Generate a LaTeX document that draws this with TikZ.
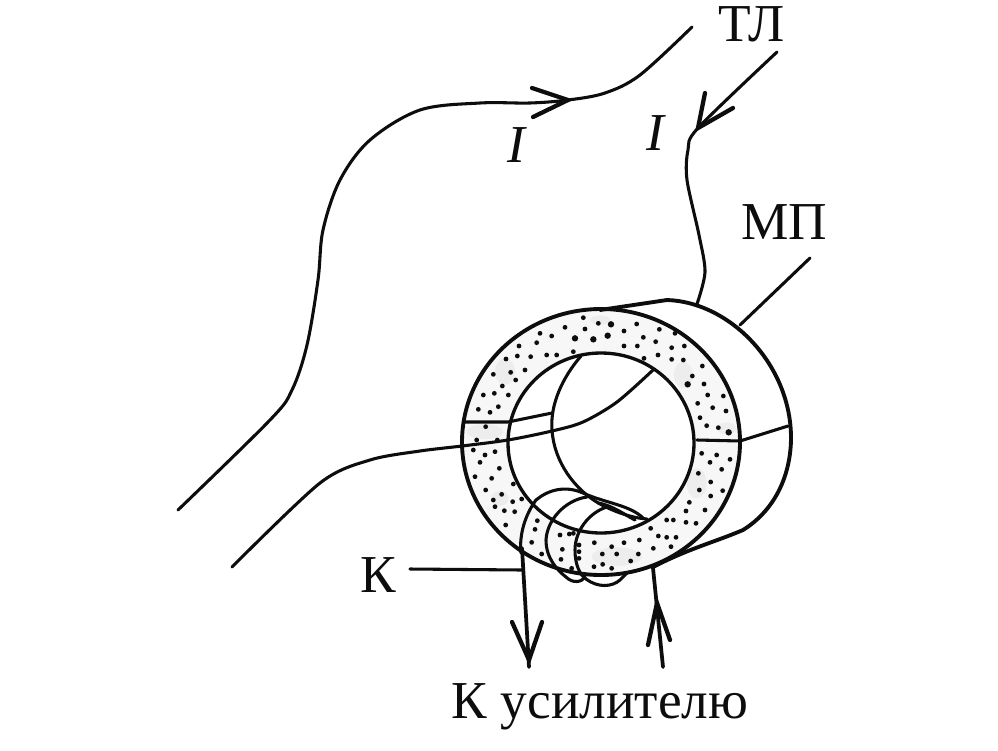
\documentclass[tikz,border=0pt]{standalone}
\usepackage{fontspec}
\setmainfont{Liberation Serif}
\tikzset{
  wire/.style={line width=2.3pt,line cap=round,line join=round,black!95},
  rim/.style={line width=2.9pt,line cap=round,line join=round,black!95},
  barb/.style={line width=3.2pt,line cap=round,black!95},
  lbl/.style={font=\fontsize{40pt}{40pt}\selectfont,inner sep=0pt,text=black!95},
  ital/.style={font=\fontsize{40pt}{40pt}\selectfont\itshape,inner sep=0pt,text=black!95},
  smudge/.style={fill=black!7,draw=none},
}
\begin{document}
\begin{tikzpicture}[x=0.75pt,y=-0.75pt]
\useasboundingbox (0,0) rectangle (998,750);
\fill[white] (0,0) rectangle (998,750);

% labels
\node[lbl,anchor=base] (tl) at (752,41) {ТЛ};
\node[lbl] (mp) at (784,222) {МП};
\node[lbl] (k) at (378,575) {К};
\node[ital] (i1) at (516,145) {I};
\node[ital] (i2) at (655,133) {I};
\node[lbl,anchor=base] (amp) at (600,718) {К усилителю};

% ring face
\fill[black!3,even odd rule] (601,442) ellipse [x radius=139,y radius=133]
     (601,443) ellipse [x radius=93,y radius=90];
\begin{scope}[even odd rule]
\clip (601,442) ellipse [x radius=139,y radius=133]
     (601,443) ellipse [x radius=93,y radius=90];
\foreach \a/\b/\c/\d in {195/275/30/40, 340/300/22/45, 265/445/60/28, 135/455/55/22, 730/285/28/40,
   770/610/30/45, 530/830/75/28, 350/665/55/28, 480/120/30/14, 860/445/28/18, 180/655/26/22}
  \fill[smudge] ({440+\a/3},{280+\b/3}) ellipse [x radius=\c/3,y radius=\d/3];
\end{scope}

% stipple
\foreach \a/\b in {430/113,375/142,300/160,335/168,290/188,237/198,198/237,232/228,272/230,320/225,
 350/225,400/215,552/153,590/132,610/172,647/185,475/130,435/147,
 658/148,705/160,552/198,592/198,612/235,654/225,695/203,733/198,695/238,730/240,787/258,757/288,
 792/312,803/345,850/348,773/370,818/383,858/393,780/413,800/437,835/443,
 255/270,212/277,160/283,227/300,187/318,130/345,163/340,205/345,175/380,115/388,150/397,137/440,
 110/480,172/480,100/510,135/525,165/515,120/547,178/565,105/590,155/595,220/612,137/630,185/643,
 160/660,218/665,245/657,165/680,193/692,224/695,197/735,785/520,830/525,810/547,870/538,845/568,
 775/580,812/606,848/632,778/630,812/648,748/667,738/693,795/690,680/720,700/720,738/727,768/730,
 632/745,655/768,680/772,708/772,693/800,598/780,552/788,515/800,463/788,487/822,595/822,640/805,
 530/822,572/843,462/860,488/853,515/865,417/795,417/815,417/835,388/762,360/765,367/808,363/838,
 395/865,292/722,285/748,275/787,305/822,400/760}
  \fill[black!95] ({440+\a/3},{280+\b/3}) circle [radius=1.8pt];
\foreach \a/\b in {743/313,866/457,513/133,503/167,405/175,460/178}
  \fill[black!95] ({440+\a/3},{280+\b/3}) circle [radius=2.4pt];

% ring rims
\draw[rim] (601,442) ellipse [x radius=139,y radius=133];
\draw[wire,line width=2.5pt] (601,443) ellipse [x radius=93,y radius=90];

% hole seen through the ring
\draw[wire] (581,356) .. controls (562,378) and (550,405) .. (552,430)
   .. controls (554,462) and (575,490) .. (600,504)
   .. controls (615,512) and (632,518) .. (647,519);

% body of the core
\draw[rim] (600,310) -- (667,300) .. controls (730,302) and (792,365) .. (791,440)
   .. controls (790,480) and (772,512) .. (743,530)
   .. controls (715,542) and (690,548) .. (653,567);

% seam
\draw[wire] (465,422) -- (508,422) -- (552,413);
\draw[wire] (697,440) -- (740,441) -- (788,426);

% line TL, first conductor
\coordinate (c1a) at (692,27);
\coordinate (c1b) at (178,510);
\draw[wire] plot[smooth,tension=.55] coordinates {(c1a) (640,75) (605,93) (568,100) (530,103) (480,103) (420,110)
   (370,140) (340,180) (323,230) (318,280) (307,345) (292,390) (270,420) (c1b)};
\coordinate (h1) at (568,100);
\draw[barb] (532,88) -- (h1) -- (533,117);

% second conductor
\coordinate (c2a) at (777,52);
\coordinate (c2b) at (697,304);
\draw[wire] plot[smooth,tension=.5] coordinates {(c2a) (698,128) (688,150) (687,180) (699,235) (705,272) (c2b)};
\coordinate (h2) at (698,128);
\draw[barb] (705,93) -- (h2) -- (733,108);

% conductor through the core
\coordinate (c3a) at (232,567);
\coordinate (c3b) at (653,370);
\draw[wire] plot[smooth,tension=.5] coordinates {(c3a) (320,483) (370,460) (420,451) (462,446) (508,440) (552,431)
   (583,422) (617,402) (c3b)};

% lead to label MP
\coordinate (mpend) at (810,258);
\coordinate (mpbody) at (740,325);
\draw[wire] (mpend) -- (mpbody);

% coil
\draw[wire] (536,500) .. controls (525,515) and (519,535) .. (521,553);
\draw[wire] (536,500) .. controls (548,490) and (565,485) .. (583,493)
   .. controls (605,503) and (630,505) .. (643,518);
\draw[wire] (587,497) .. controls (565,500) and (547,520) .. (546,540)
   .. controls (546,558) and (557,570) .. (566,577)
   .. controls (573,584) and (582,582) .. (585,577);
\draw[wire] (607,507) .. controls (590,512) and (575,530) .. (575,550)
   .. controls (575,565) and (580,575) .. (586,579)
   .. controls (598,588) and (612,587) .. (620,580) -- (627,573);
\draw[wire] (598,503) .. controls (612,505) and (625,515) .. (635,520);

% coil leads with arrows
\coordinate (l1) at (522,548);
\coordinate (l1end) at (529,667);
\coordinate (h3) at (529,660);
\draw[wire,line width=2.8pt] (l1) -- (l1end);
\draw[barb] (512,622) -- (h3) -- (542,622);
\coordinate (l2) at (653,568);
\coordinate (l2end) at (663,667);
\coordinate (h4) at (657,603);
\draw[wire,line width=2.8pt] (l2) -- (l2end);
\draw[barb] (648,645) -- (h4) -- (670,640);

% lead of label K
\coordinate (kend) at (522,570);
\draw[wire] (410,569) -- (kend);
\end{tikzpicture}
\end{document}
